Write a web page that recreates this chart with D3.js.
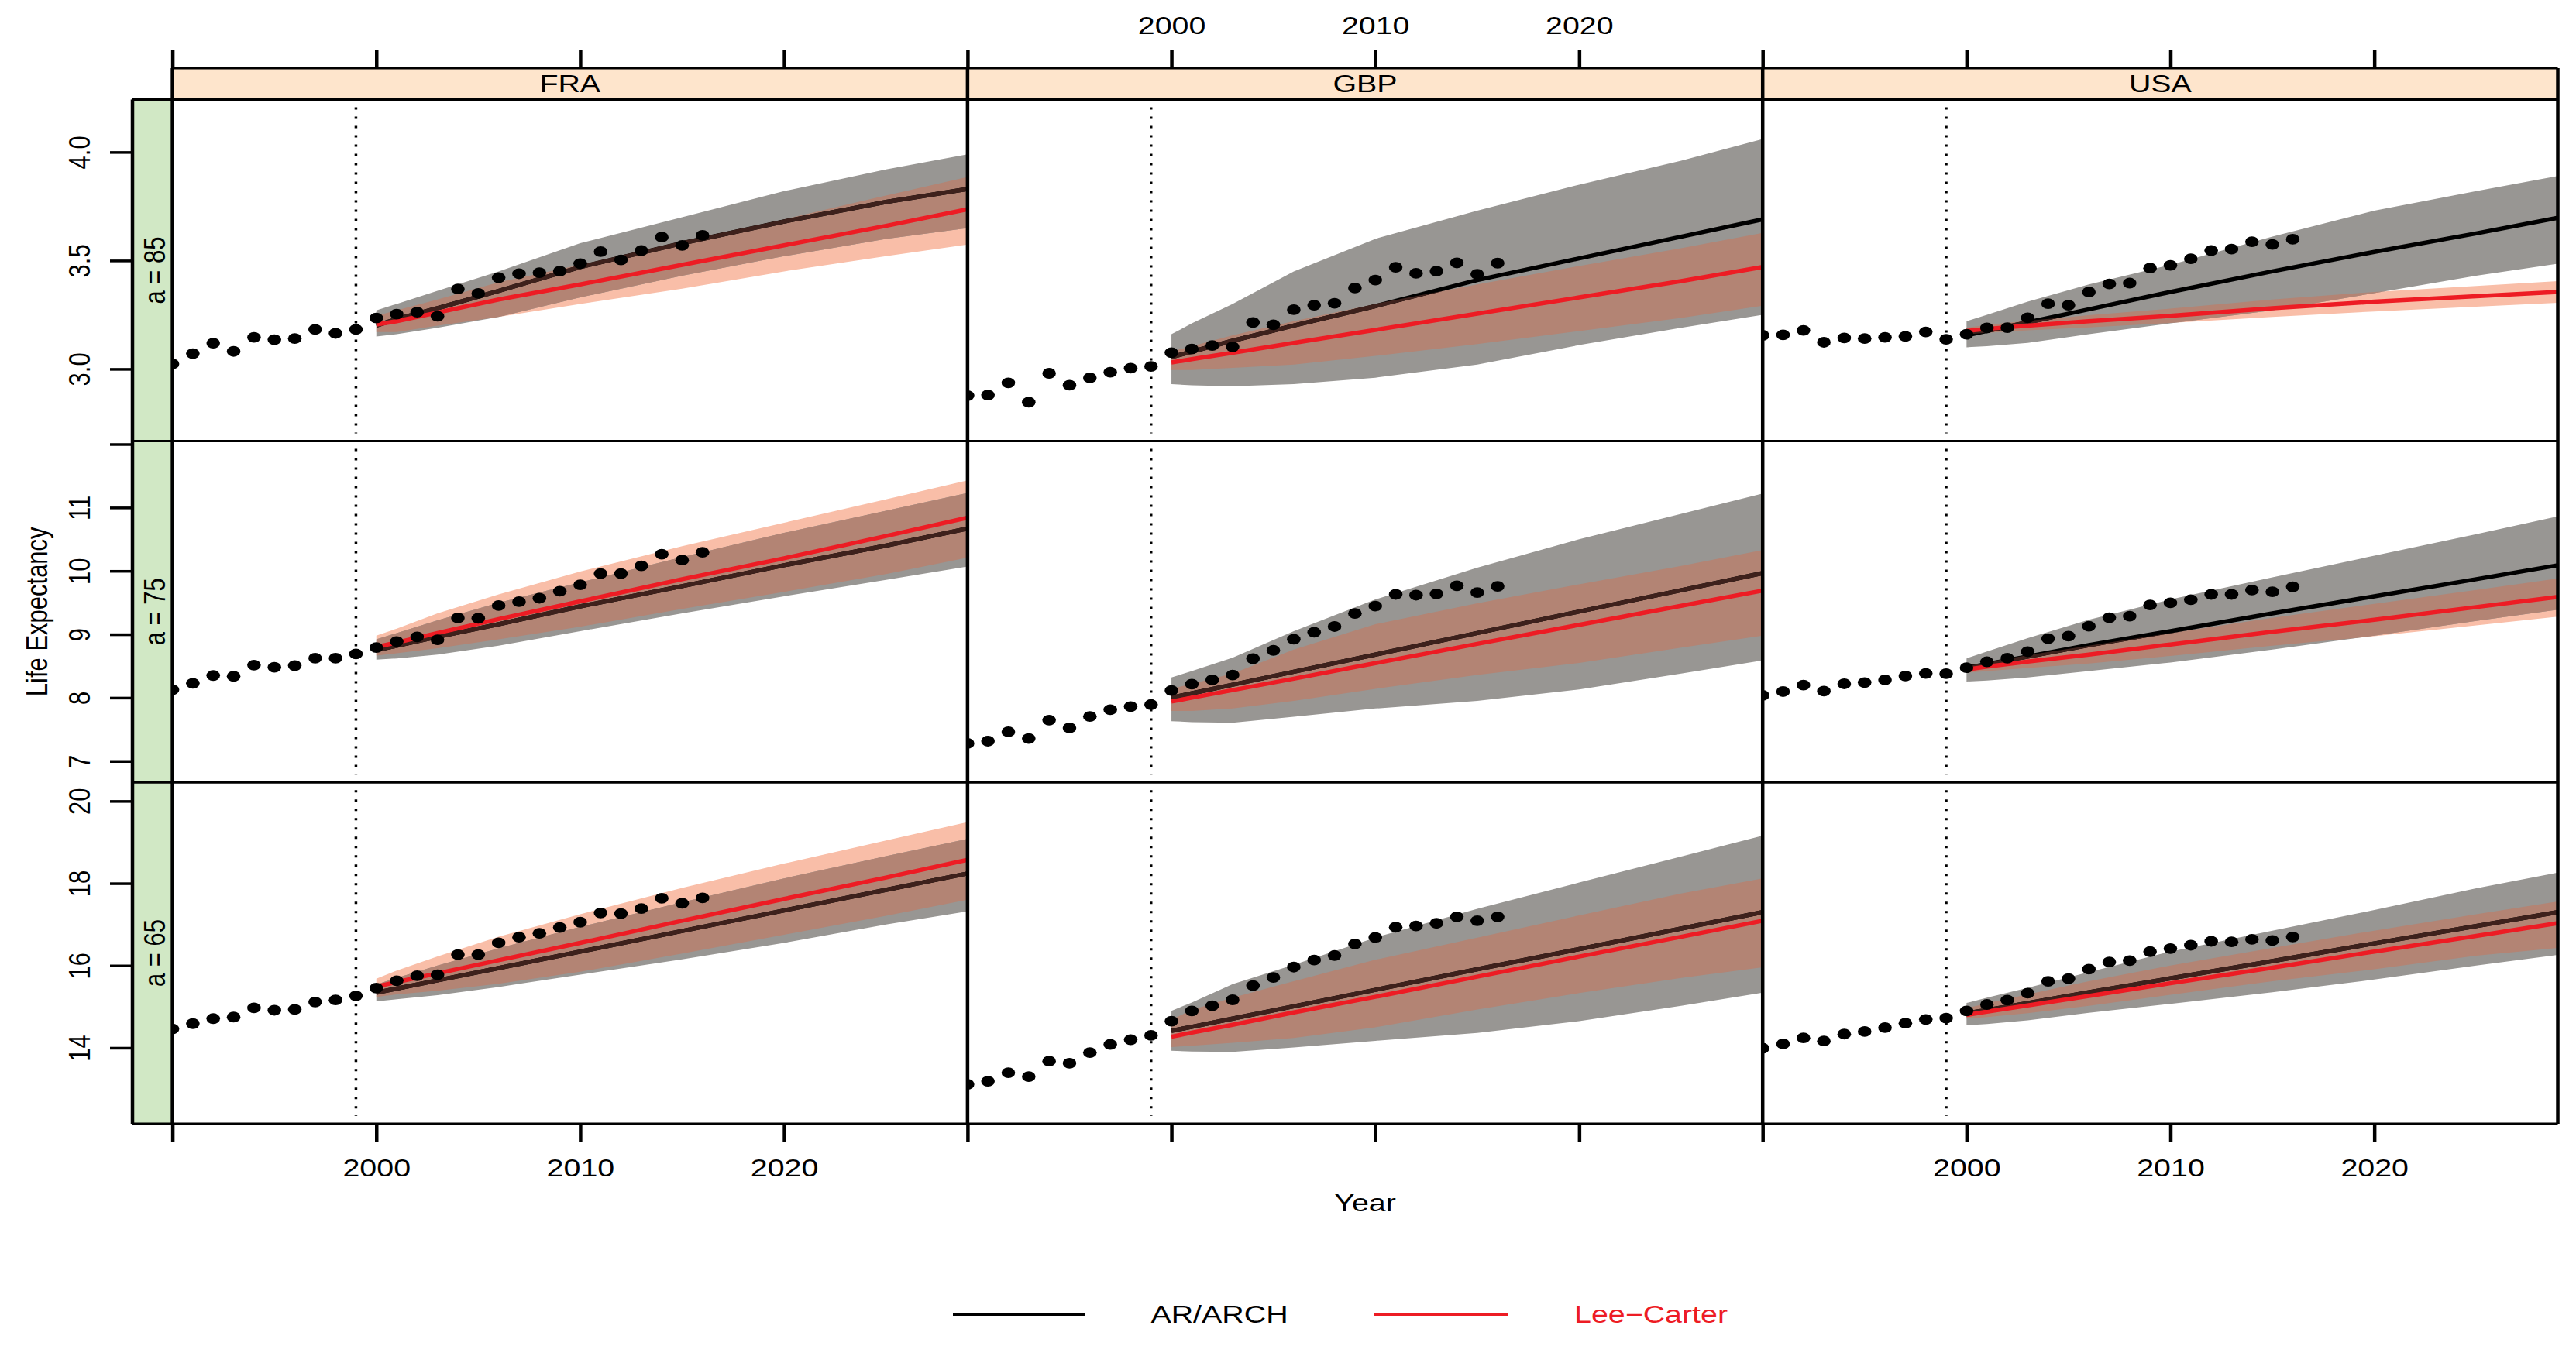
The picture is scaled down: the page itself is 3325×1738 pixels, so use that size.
<!DOCTYPE html>
<html><head><meta charset="utf-8">
<script src="https://cdn.jsdelivr.net/npm/d3@7"></script>
<style>body{margin:0;background:#fff}svg{display:block}</style>
</head><body>
<svg id="chart" width="3325" height="1738"></svg>
<script>
// ---------------- DATA ----------------
const countries = ["FRA", "GBP", "USA"];
const ages = ["a = 85", "a = 75", "a = 65"];
const xLimits = [1990, 2029];
const yLimits = [[2.668, 4.242], [6.665, 12.05], [12.154, 20.455]];
const xTicks = [1990, 2000, 2010, 2020];
const xTickLabels = ["", "2000", "2010", "2020"];
const yTicks = [[3.0, 3.5, 4.0], [7, 8, 9, 10, 11, 12], [14, 16, 18, 20]];
const yTickLabels = [["3.0", "3.5", "4.0"], ["7", "8", "9", "10", "11", ""], ["14", "16", "18", "20"]];
const cutYear = 1999;
const legendLabels = ["AR/ARCH", "Lee\u2212Carter"];

const obsYears = [1990,1991,1992,1993,1994,1995,1996,1997,1998,1999,2000,2001,2002,2003,2004,2005,2006,2007,2008,2009,2010,2011,2012,2013,2014,2015,2016];
const fcYears = [2000, 2001, 2003, 2006, 2010, 2015, 2020, 2025, 2029];

// a = 85
const FRA85_obs = [3.023,3.071,3.119,3.081,3.146,3.135,3.140,3.182,3.164,3.182,3.235,3.253,3.262,3.243,3.369,3.348,3.421,3.439,3.444,3.451,3.486,3.541,3.503,3.546,3.608,3.570,3.616];
const FRA85_ar   = [3.20, 3.23, 3.28, 3.36, 3.47, 3.58, 3.68, 3.77, 3.83];
const FRA85_arLo = [3.15, 3.16, 3.19, 3.24, 3.33, 3.43, 3.52, 3.60, 3.65];
const FRA85_arHi = [3.27, 3.30, 3.36, 3.45, 3.58, 3.70, 3.82, 3.92, 3.99];
const FRA85_lc   = [3.205, 3.22, 3.26, 3.32, 3.39, 3.48, 3.57, 3.66, 3.736];
const FRA85_lcLo = [3.17, 3.17, 3.20, 3.24, 3.30, 3.37, 3.45, 3.52, 3.574];
const FRA85_lcHi = [3.245, 3.27, 3.32, 3.40, 3.48, 3.59, 3.69, 3.80, 3.885];

const GBP85_obs = [2.877,2.880,2.936,2.847,2.980,2.925,2.959,2.985,3.004,3.012,3.075,3.092,3.108,3.102,3.214,3.204,3.273,3.294,3.303,3.373,3.410,3.469,3.441,3.451,3.489,3.437,3.488];
const GBP85_ar   = [3.055, 3.08, 3.13, 3.20, 3.29, 3.41, 3.51, 3.61, 3.69];
const GBP85_arLo = [2.93, 2.925, 2.92, 2.93, 2.96, 3.02, 3.11, 3.19, 3.25];
const GBP85_arHi = [3.16, 3.21, 3.30, 3.45, 3.60, 3.73, 3.85, 3.96, 4.06];
const GBP85_lc   = [3.03, 3.045, 3.075, 3.12, 3.18, 3.255, 3.33, 3.405, 3.47];
const GBP85_lcLo = [2.995, 2.995, 3.005, 3.02, 3.06, 3.115, 3.175, 3.235, 3.292];
const GBP85_lcHi = [3.08, 3.105, 3.155, 3.22, 3.30, 3.39, 3.475, 3.557, 3.627];

const USA85_obs = [3.155,3.157,3.178,3.123,3.143,3.140,3.146,3.150,3.171,3.137,3.160,3.189,3.190,3.236,3.301,3.294,3.355,3.392,3.396,3.465,3.478,3.508,3.546,3.553,3.587,3.574,3.598];
const USA85_ar   = [3.155, 3.175, 3.215, 3.275, 3.355, 3.45, 3.54, 3.625, 3.697];
const USA85_arLo = [3.10, 3.105, 3.12, 3.16, 3.21, 3.27, 3.35, 3.43, 3.485];
const USA85_arHi = [3.22, 3.25, 3.31, 3.39, 3.48, 3.61, 3.73, 3.82, 3.89];
const USA85_lc   = [3.175, 3.185, 3.20, 3.22, 3.245, 3.28, 3.31, 3.335, 3.355];
const USA85_lcLo = [3.16, 3.167, 3.178, 3.192, 3.212, 3.24, 3.265, 3.287, 3.305];
const USA85_lcHi = [3.19, 3.203, 3.222, 3.248, 3.278, 3.32, 3.355, 3.383, 3.405];

// a = 75
const FRA75_obs = [8.125,8.227,8.350,8.338,8.514,8.481,8.506,8.624,8.624,8.690,8.792,8.886,8.960,8.914,9.258,9.254,9.454,9.515,9.569,9.680,9.782,9.957,9.957,10.080,10.264,10.171,10.293];
const FRA75_ar   = [8.75, 8.82, 8.96, 9.16, 9.44, 9.76, 10.09, 10.40, 10.67];
const FRA75_arLo = [8.60, 8.62, 8.68, 8.82, 9.05, 9.33, 9.60, 9.86, 10.07];
const FRA75_arHi = [8.92, 9.02, 9.22, 9.50, 9.82, 10.22, 10.60, 10.95, 11.23];
const FRA75_lc   = [8.80, 8.87, 9.02, 9.24, 9.52, 9.87, 10.20, 10.55, 10.84];
const FRA75_lcLo = [8.665, 8.70, 8.78, 8.92, 9.12, 9.40, 9.67, 9.95, 10.21];
const FRA75_lcHi = [8.98, 9.09, 9.33, 9.63, 9.99, 10.39, 10.76, 11.13, 11.43];

const GBP75_obs = [7.279,7.315,7.463,7.356,7.647,7.524,7.704,7.810,7.859,7.892,8.113,8.215,8.281,8.358,8.616,8.747,8.923,9.033,9.123,9.328,9.446,9.630,9.618,9.638,9.766,9.659,9.757];
const GBP75_ar   = [8.00, 8.07, 8.205, 8.41, 8.68, 9.02, 9.36, 9.695, 9.966];
const GBP75_arLo = [7.63, 7.615, 7.605, 7.70, 7.83, 7.95, 8.13, 8.38, 8.59];
const GBP75_arHi = [8.32, 8.42, 8.63, 9.05, 9.55, 10.05, 10.50, 10.90, 11.22];
const GBP75_lc   = [7.94, 8.00, 8.12, 8.30, 8.545, 8.85, 9.15, 9.45, 9.69];
const GBP75_lcLo = [7.79, 7.79, 7.83, 7.95, 8.14, 8.36, 8.55, 8.79, 8.98];
const GBP75_lcHi = [8.14, 8.22, 8.38, 8.76, 9.16, 9.49, 9.79, 10.08, 10.33];

const USA75_obs = [8.036,8.097,8.199,8.104,8.219,8.239,8.281,8.342,8.383,8.379,8.473,8.567,8.624,8.726,8.931,8.972,9.127,9.263,9.287,9.463,9.496,9.545,9.630,9.630,9.699,9.671,9.749];
const USA75_ar   = [8.47, 8.53, 8.65, 8.83, 9.05, 9.33, 9.60, 9.87, 10.09];
const USA75_arLo = [8.256, 8.27, 8.32, 8.42, 8.555, 8.76, 8.98, 9.21, 9.39];
const USA75_arHi = [8.62, 8.73, 8.94, 9.23, 9.55, 9.90, 10.24, 10.58, 10.86];
const USA75_lc   = [8.445, 8.49, 8.57, 8.68, 8.84, 9.04, 9.23, 9.43, 9.59];
const USA75_lcLo = [8.395, 8.42, 8.47, 8.54, 8.66, 8.82, 8.97, 9.14, 9.28];
const USA75_lcHi = [8.495, 8.56, 8.67, 8.82, 9.02, 9.26, 9.48, 9.70, 9.88];

// a = 65
const FRA65_obs = [14.458,14.588,14.710,14.748,14.970,14.913,14.934,15.114,15.163,15.264,15.452,15.631,15.753,15.776,16.265,16.265,16.552,16.689,16.783,16.926,17.055,17.279,17.264,17.386,17.638,17.516,17.645];
const FRA65_ar   = [15.34, 15.44, 15.64, 15.94, 16.34, 16.84, 17.34, 17.84, 18.24];
const FRA65_arLo = [15.13, 15.18, 15.28, 15.48, 15.78, 16.15, 16.55, 17.00, 17.32];
const FRA65_arHi = [15.54, 15.70, 16.00, 16.42, 16.94, 17.54, 18.12, 18.66, 19.08];
const FRA65_lc   = [15.49, 15.60, 15.81, 16.13, 16.55, 17.09, 17.62, 18.14, 18.57];
const FRA65_lcLo = [15.24, 15.30, 15.39, 15.56, 15.85, 16.29, 16.75, 17.21, 17.60];
const FRA65_lcHi = [15.68, 15.88, 16.22, 16.70, 17.25, 17.89, 18.48, 19.04, 19.49];

const GBP65_obs = [13.113,13.188,13.395,13.301,13.677,13.626,13.883,14.084,14.197,14.303,14.648,14.898,15.024,15.167,15.513,15.712,15.963,16.133,16.245,16.527,16.683,16.933,16.965,17.027,17.185,17.091,17.185];
const GBP65_ar   = [14.415, 14.51, 14.71, 15.01, 15.41, 15.91, 16.40, 16.90, 17.30];
const GBP65_arLo = [13.93, 13.91, 13.90, 14.01, 14.17, 14.36, 14.65, 15.02, 15.34];
const GBP65_arHi = [14.90, 15.10, 15.55, 16.02, 16.68, 17.38, 18.02, 18.65, 19.16];
const GBP65_lc   = [14.27, 14.37, 14.56, 14.86, 15.24, 15.73, 16.22, 16.70, 17.09];
const GBP65_lcLo = [14.02, 14.05, 14.12, 14.24, 14.50, 14.93, 15.33, 15.70, 15.96];
const GBP65_lcHi = [14.68, 14.92, 15.22, 15.62, 16.14, 16.68, 17.22, 17.75, 18.12];

const USA65_obs = [13.990,14.096,14.241,14.165,14.334,14.397,14.491,14.598,14.691,14.723,14.898,15.054,15.161,15.330,15.618,15.682,15.913,16.088,16.120,16.339,16.414,16.495,16.589,16.576,16.640,16.608,16.696];
const USA65_ar   = [14.84, 14.92, 15.09, 15.35, 15.69, 16.11, 16.54, 16.96, 17.30];
const USA65_arLo = [14.55, 14.58, 14.67, 14.85, 15.07, 15.35, 15.66, 16.00, 16.26];
const USA65_arHi = [15.09, 15.22, 15.46, 15.84, 16.34, 16.85, 17.35, 17.88, 18.26];
const USA65_lc   = [14.80, 14.88, 15.03, 15.26, 15.57, 15.95, 16.34, 16.72, 17.03];
const USA65_lcLo = [14.71, 14.75, 14.84, 15.02, 15.29, 15.62, 15.91, 16.24, 16.43];
const USA65_lcHi = [14.96, 15.08, 15.30, 15.62, 16.00, 16.43, 16.85, 17.25, 17.56];

// table the drawing code reads from
const panels = [
  [ {obs:FRA85_obs, ar:FRA85_ar, arLo:FRA85_arLo, arHi:FRA85_arHi, lc:FRA85_lc, lcLo:FRA85_lcLo, lcHi:FRA85_lcHi},
    {obs:GBP85_obs, ar:GBP85_ar, arLo:GBP85_arLo, arHi:GBP85_arHi, lc:GBP85_lc, lcLo:GBP85_lcLo, lcHi:GBP85_lcHi},
    {obs:USA85_obs, ar:USA85_ar, arLo:USA85_arLo, arHi:USA85_arHi, lc:USA85_lc, lcLo:USA85_lcLo, lcHi:USA85_lcHi} ],
  [ {obs:FRA75_obs, ar:FRA75_ar, arLo:FRA75_arLo, arHi:FRA75_arHi, lc:FRA75_lc, lcLo:FRA75_lcLo, lcHi:FRA75_lcHi},
    {obs:GBP75_obs, ar:GBP75_ar, arLo:GBP75_arLo, arHi:GBP75_arHi, lc:GBP75_lc, lcLo:GBP75_lcLo, lcHi:GBP75_lcHi},
    {obs:USA75_obs, ar:USA75_ar, arLo:USA75_arLo, arHi:USA75_arHi, lc:USA75_lc, lcLo:USA75_lcLo, lcHi:USA75_lcHi} ],
  [ {obs:FRA65_obs, ar:FRA65_ar, arLo:FRA65_arLo, arHi:FRA65_arHi, lc:FRA65_lc, lcLo:FRA65_lcLo, lcHi:FRA65_lcHi},
    {obs:GBP65_obs, ar:GBP65_ar, arLo:GBP65_arLo, arHi:GBP65_arHi, lc:GBP65_lc, lcLo:GBP65_lcLo, lcHi:GBP65_lcHi},
    {obs:USA65_obs, ar:USA65_ar, arLo:USA65_arLo, arHi:USA65_arHi, lc:USA65_lc, lcLo:USA65_lcLo, lcHi:USA65_lcHi} ]
];

// ---------------- LAYOUT / STYLE ----------------
const W = 3325, H = 1738;
const SX = 1.27;                       // horizontal stretch of the original rendering
const FONT = "'Liberation Sans', Arial, Helvetica, sans-serif";
const FS = 31;
const panelLeft = 222.6, panelW = 1026.3;
const panelTop = 128.6, panelH = 440.8;
const stripTop = 88, greenLeft = 171;
const COL = {gray: "#989693", salmon: "#f9bea8", brown: "#b38474", darkLine: "#3e211c",
             red: "#ed1c24", peach: "#fee5cc", green: "#d1e8c5"};

const svg = d3.select("#chart");
svg.append("rect").attr("width", W).attr("height", H).attr("fill", "#fff");
const defs = svg.append("defs");

const xScales = countries.map((_, c) =>
  d3.scaleLinear().domain(xLimits).range([panelLeft + c * panelW, panelLeft + (c + 1) * panelW]));
const yScales = ages.map((_, r) =>
  d3.scaleLinear().domain(yLimits[r]).range([panelTop + (r + 1) * panelH, panelTop + r * panelH]));

const panelRight = panelLeft + 3 * panelW;
const panelBottom = panelTop + 3 * panelH;

function fc(m, lo, hi) { return fcYears.map((yr, i) => ({year: yr, m: m[i], lo: lo[i], hi: hi[i]})); }

// ---------------- PANELS ----------------
ages.forEach((age, r) => countries.forEach((cn, c) => {
  const P = panels[r][c];
  const x = xScales[c], y = yScales[r];
  const id = "p" + r + c;
  const x0 = x.range()[0], x1 = x.range()[1], y0 = y.range()[1], y1 = y.range()[0];
  defs.append("clipPath").attr("id", id + "clip").append("rect")
    .attr("x", x0).attr("y", y0).attr("width", x1 - x0).attr("height", y1 - y0);
  const arF = fc(P.ar, P.arLo, P.arHi), lcF = fc(P.lc, P.lcLo, P.lcHi);
  const area = d3.area().x(d => x(d.year)).y0(d => y(d.lo)).y1(d => y(d.hi));
  const line = d3.line().x(d => x(d.year)).y(d => y(d.m));
  defs.append("clipPath").attr("id", id + "ar").append("path").attr("d", area(arF));
  defs.append("clipPath").attr("id", id + "lc").append("path").attr("d", area(lcF));

  const g = svg.append("g").attr("clip-path", `url(#${id}clip)`);
  g.append("path").attr("d", area(lcF)).attr("fill", COL.salmon);
  g.append("path").attr("d", area(arF)).attr("fill", COL.gray);
  g.append("path").attr("d", area(lcF)).attr("fill", COL.brown).attr("clip-path", `url(#${id}ar)`);
  g.append("path").attr("d", line(arF)).attr("fill", "none").attr("stroke", "#000").attr("stroke-width", 5.5);
  g.append("path").attr("d", line(arF)).attr("fill", "none").attr("stroke", COL.darkLine)
    .attr("stroke-width", 5.5).attr("clip-path", `url(#${id}lc)`);
  g.append("path").attr("d", line(lcF)).attr("fill", "none").attr("stroke", COL.red).attr("stroke-width", 5.5);
  g.append("line").attr("x1", x(cutYear)).attr("x2", x(cutYear)).attr("y1", y0 + 10).attr("y2", y1 - 10)
    .attr("stroke", "#000").attr("stroke-width", 3.5).attr("stroke-dasharray", "3 9");
  g.selectAll("ellipse").data(obsYears.map((yr, i) => ({year: yr, v: P.obs[i]})))
    .join("ellipse").attr("cx", d => x(d.year)).attr("cy", d => y(d.v))
    .attr("rx", 8.8).attr("ry", 6.9).attr("fill", "#000");
}));

// ---------------- STRIPS ----------------
countries.forEach((cn, c) => {
  const [a, b] = xScales[c].range();
  svg.append("rect").attr("x", a).attr("y", stripTop).attr("width", b - a).attr("height", panelTop - stripTop)
    .attr("fill", COL.peach);
  svg.append("text").attr("transform", `translate(${(a + b) / 2},${(stripTop + panelTop) / 2}) scale(${SX},1)`)
    .attr("text-anchor", "middle").attr("dy", "0.36em")
    .attr("font-family", FONT).attr("font-size", FS).text(cn);
});
ages.forEach((age, r) => {
  const [b, a] = yScales[r].range();
  svg.append("rect").attr("x", greenLeft).attr("y", a).attr("width", panelLeft - greenLeft).attr("height", b - a)
    .attr("fill", COL.green);
  svg.append("text").attr("transform", `translate(${(greenLeft + panelLeft) / 2 + 2},${(a + b) / 2}) scale(${SX},1) rotate(-90)`)
    .attr("text-anchor", "middle").attr("dy", "0.36em")
    .attr("font-family", FONT).attr("font-size", FS).text(age);
});

// ---------------- FRAME LINES ----------------
const frame = svg.append("g").attr("stroke", "#000").attr("fill", "none");
frame.append("line").attr("x1", panelLeft).attr("x2", panelRight).attr("y1", stripTop).attr("y2", stripTop).attr("stroke-width", 3);
[0, 1, 2, 3].forEach(r => {
  const yy = panelTop + r * panelH;
  frame.append("line").attr("x1", greenLeft).attr("x2", panelRight).attr("y1", yy).attr("y2", yy).attr("stroke-width", 3);
});
frame.append("line").attr("x1", greenLeft).attr("x2", greenLeft).attr("y1", panelTop).attr("y2", panelBottom).attr("stroke-width", 4.5);
[0, 1, 2, 3].forEach(c => {
  const xx = panelLeft + c * panelW;
  frame.append("line").attr("x1", xx).attr("x2", xx).attr("y1", stripTop).attr("y2", panelBottom).attr("stroke-width", 4.5);
});

// ---------------- AXES ----------------
function styleAxis(g) {
  g.select(".domain").remove();
  g.attr("font-family", FONT).attr("font-size", FS);
  g.selectAll(".tick text").attr("fill", "#000");
}
countries.forEach((cn, c) => {
  const lab = (d, i) => xTickLabels[i];
  const top = svg.append("g").attr("transform", `translate(0,${stripTop})`)
    .call(d3.axisTop(xScales[c]).tickValues(xTicks).tickSize(23).tickSizeOuter(0).tickFormat(c === 1 ? lab : () => ""));
  styleAxis(top);
  top.selectAll(".tick line").attr("stroke", "#000").attr("stroke-width", 4.5);
  top.selectAll(".tick text").attr("y", null).attr("dy", "0.36em")
    .attr("transform", `translate(0,${33 - stripTop}) scale(${SX},1)`);
  const bot = svg.append("g").attr("transform", `translate(0,${panelBottom})`)
    .call(d3.axisBottom(xScales[c]).tickValues(xTicks).tickSize(24).tickSizeOuter(0).tickFormat(c !== 1 ? lab : () => ""));
  styleAxis(bot);
  bot.selectAll(".tick line").attr("stroke", "#000").attr("stroke-width", 4.5);
  bot.selectAll(".tick text").attr("y", null).attr("dy", "0.36em")
    .attr("transform", `translate(0,${1507.5 - panelBottom}) scale(${SX},1)`);
});
ages.forEach((age, r) => {
  const ax = svg.append("g").attr("transform", `translate(${greenLeft},0)`)
    .call(d3.axisLeft(yScales[r]).tickValues(yTicks[r]).tickSize(29).tickSizeOuter(0)
      .tickFormat((d, i) => yTickLabels[r][i]));
  styleAxis(ax);
  ax.selectAll(".tick line").attr("stroke", "#000").attr("stroke-width", 3.5);
  ax.selectAll(".tick text").attr("x", null).attr("dy", "0.36em").attr("text-anchor", "middle")
    .attr("transform", `translate(${101.5 - greenLeft},0) scale(${SX},1) rotate(-90)`);
});

// ---------------- AXIS TITLES ----------------
svg.append("text").attr("transform", `translate(${(panelLeft + panelRight) / 2},1553) scale(${SX},1)`)
  .attr("text-anchor", "middle").attr("dy", "0.36em").attr("font-family", FONT).attr("font-size", FS).text("Year");
svg.append("text").attr("transform", `translate(47,${(panelTop + panelBottom) / 2}) scale(${SX},1) rotate(-90)`)
  .attr("text-anchor", "middle").attr("dy", "0.36em").attr("font-family", FONT).attr("font-size", FS).text("Life Expectancy");

// ---------------- LEGEND ----------------
const legY = 1697;
const legItems = [
  {label: legendLabels[0], color: "#000", x1: 1230, x2: 1401, tx: 1574},
  {label: legendLabels[1], color: COL.red, x1: 1773, x2: 1946, tx: 2131}
];
legItems.forEach(it => {
  svg.append("line").attr("x1", it.x1).attr("x2", it.x2).attr("y1", legY).attr("y2", legY)
    .attr("stroke", it.color).attr("stroke-width", 4);
  svg.append("text").attr("transform", `translate(${it.tx},${legY}) scale(${SX},1)`)
    .attr("text-anchor", "middle").attr("dy", "0.36em").attr("font-family", FONT).attr("font-size", FS)
    .attr("fill", it.color).text(it.label);
});
</script>
</body></html>
